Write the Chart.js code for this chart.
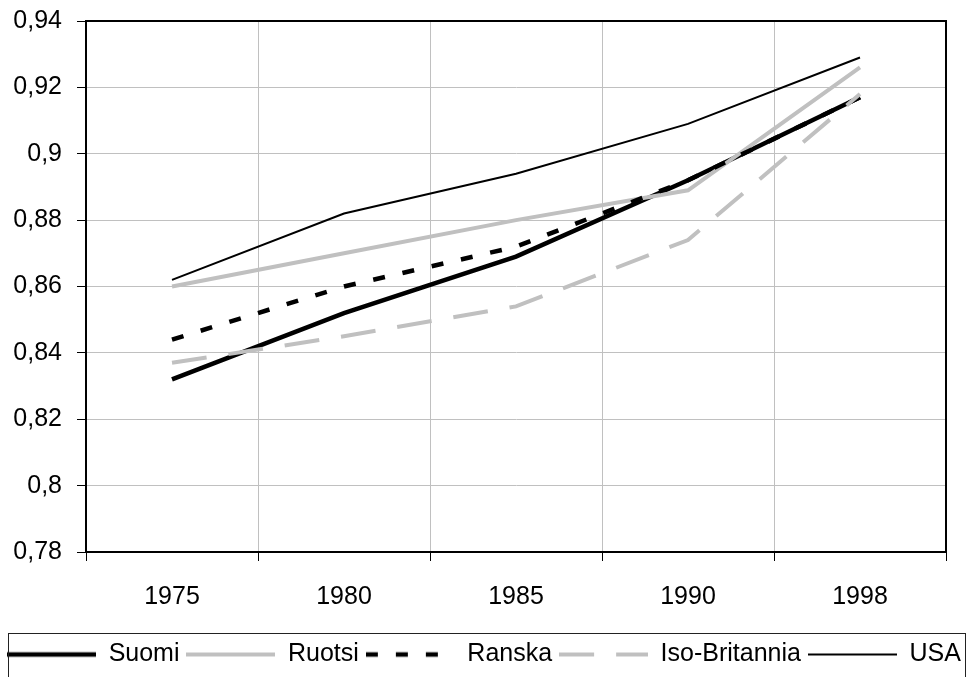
<!DOCTYPE html>
<html>
<head>
<meta charset="utf-8">
<script src="https://cdn.jsdelivr.net/npm/chart.js@4/dist/chart.umd.min.js"></script>
<style>
  html, body { margin: 0; padding: 0; background: #fff; }
  #wrap { width: 968px; height: 677px; }
</style>
</head>
<body>
<div id="wrap"><canvas id="myChart" width="968" height="677"></canvas></div>
<script>
(() => {
  'use strict'

  // years on the x axis
  const years = ['1975', '1980', '1985', '1990', '1998']

  // series values
  const suomi = [0.832, 0.852, 0.869, 0.892, 0.917]
  const ruotsi = [0.860, 0.870, 0.880, 0.889, 0.926]
  const ranska = [0.844, 0.860, 0.872, 0.892, 0.917]
  const isoBritannia = [0.837, 0.845, 0.854, 0.874, 0.918]
  const usa = [0.862, 0.882, 0.894, 0.909, 0.929]

  const yMin = 0.78
  const yMax = 0.94
  const yStep = 0.02

  const grey = '#c0c0c0'
  const font = { family: "'Liberation Sans', Arial, sans-serif", size: 25 }
  const swatchWidth = 89

  // legend swatch: a short piece of the series line, dashes included
  function makeSwatch(ds) {
    const c = document.createElement('canvas')
    c.width = swatchWidth
    c.height = 8
    const g = c.getContext('2d')
    g.strokeStyle = ds.borderColor
    g.lineWidth = ds.borderWidth
    g.setLineDash(ds.borderDash || [])
    g.beginPath()
    g.moveTo(0, 4)
    g.lineTo(swatchWidth, 4)
    g.stroke()
    return c
  }

  // plot frame + legend box
  const framePlugin = {
    id: 'frame',
    afterDraw(chart) {
      const { ctx, chartArea: a, legend } = chart
      ctx.save()
      ctx.strokeStyle = '#000'
      ctx.lineWidth = 2
      ctx.strokeRect(a.left, a.top, a.right - a.left, a.bottom - a.top)
      ctx.lineWidth = 1
      ctx.strokeStyle = '#222'
      ctx.strokeRect(8.5, legend.top - 1.5, 957, 60)
      ctx.restore()
    }
  }

  const ctx = document.getElementById('myChart')
  // eslint-disable-next-line no-unused-vars
  const myChart = new Chart(ctx, {
    type: 'line',
    data: {
      labels: years,
      datasets: [
        { label: 'Suomi', data: suomi, borderColor: '#000', borderWidth: 4.5, order: 5 },
        { label: 'Ruotsi', data: ruotsi, borderColor: grey, borderWidth: 4, order: 4 },
        { label: 'Ranska', data: ranska, borderColor: '#000', borderWidth: 4.5, borderDash: [12, 18], order: 3 },
        { label: 'Iso-Britannia', data: isoBritannia, borderColor: grey, borderWidth: 4, borderDash: [35, 22], order: 2 },
        { label: 'USA', data: usa, borderColor: '#000', borderWidth: 2, order: 1 }
      ]
    },
    options: {
      responsive: false,
      animation: false,
      devicePixelRatio: 1,
      layout: { padding: { top: 21, right: 0, left: 0, bottom: 0 } },
      elements: {
        point: { radius: 0, hoverRadius: 0 },
        line: { tension: 0, fill: false, borderCapStyle: 'butt', borderJoinStyle: 'miter' }
      },
      scales: {
        x: {
          type: 'category',
          offset: true,
          grid: { offset: true, color: grey, lineWidth: 1, tickLength: 9, tickColor: '#000', tickWidth: 1 },
          border: { color: '#000', width: 2 },
          ticks: { color: '#000', font: font, padding: 21, maxRotation: 0 },
          afterFit(scale) { scale.height = 83 }
        },
        y: {
          min: yMin,
          max: yMax,
          grid: { color: grey, lineWidth: 1, tickLength: 9, tickColor: '#000', tickWidth: 1 },
          border: { color: '#000', width: 2 },
          ticks: {
            stepSize: yStep,
            color: '#000',
            font: font,
            padding: 15,
            callback: v => String(Math.round(v * 100) / 100).replace('.', ',')
          },
          afterFit(scale) {
            scale.width = 86
            scale.paddingTop = 0
            scale.paddingBottom = 0
          }
        },
        spacer: {
          position: 'right',
          display: true,
          grid: { display: false },
          border: { display: false },
          ticks: { display: false },
          afterFit(scale) { scale.width = 22 }
        }
      },
      plugins: {
        legend: {
          position: 'bottom',
          labels: {
            color: '#000',
            font: font,
            usePointStyle: true,
            pointStyleWidth: swatchWidth,
            padding: 7,
            sort: (a, b) => a.datasetIndex - b.datasetIndex,
            generateLabels(chart) {
              const items = Chart.defaults.plugins.legend.labels.generateLabels(chart)
              return items.map(item => {
                item.pointStyle = makeSwatch(chart.data.datasets[item.datasetIndex])
                return item
              })
            }
          }
        },
        tooltip: { enabled: false }
      }
    },
    plugins: [framePlugin]
  })
})()
</script>
</body>
</html>
